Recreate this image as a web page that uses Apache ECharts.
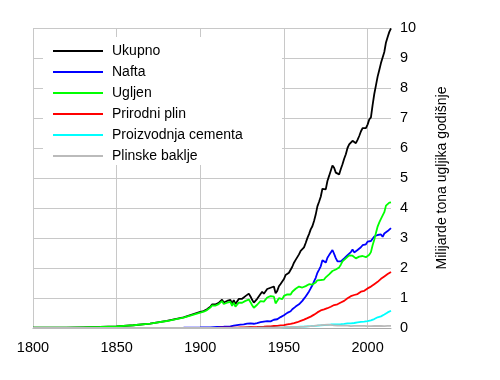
<!DOCTYPE html>
<html>
<head>
<meta charset="utf-8">
<script src="https://cdn.jsdelivr.net/npm/echarts@6/dist/echarts.min.js"></script>
<style>html,body{margin:0;padding:0;background:#fff;}#c{width:500px;height:380px;}</style>
</head>
<body>
<div id="c"></div>
<script>
var years = [1800,1810,1820,1830,1840,1850,1860,1870,1880,1890,
1900,1901,1902,1903,1904,1905,1906,1907,1908,1909,
1910,1911,1912,1913,1914,1915,1916,1917,1918,1919,
1920,1921,1922,1923,1924,1925,1926,1927,1928,1929,
1930,1931,1932,1933,1934,1935,1936,1937,1938,1939,
1940,1941,1942,1943,1944,1945,1946,1947,1948,1949,
1950,1951,1952,1953,1954,1955,1956,1957,1958,1959,
1960,1961,1962,1963,1964,1965,1966,1967,1968,1969,
1970,1971,1972,1973,1974,1975,1976,1977,1978,1979,
1980,1981,1982,1983,1984,1985,1986,1987,1988,1989,
1990,1991,1992,1993,1994,1995,1996,1997,1998,1999,
2000,2001,2002,2003,2004,2005,2006,2007,2008,2009,
2010,2011,2012,2013,2014];

var totalVals = [0.008,0.010,0.014,0.024,0.033,0.054,0.091,0.147,0.236,0.356,
0.534,0.552,0.566,0.617,0.624,0.663,0.707,0.784,0.750,0.785,
0.819,0.836,0.879,0.943,0.850,0.838,0.901,0.955,0.936,0.806,
0.932,0.803,0.845,0.970,0.963,0.975,0.983,1.062,1.065,1.145,
1.053,0.940,0.847,0.893,0.973,1.027,1.130,1.209,1.142,1.192,
1.299,1.334,1.342,1.391,1.383,1.160,1.238,1.392,1.469,1.419,
1.630,1.767,1.795,1.841,1.865,2.042,2.177,2.270,2.330,2.454,
2.569,2.580,2.686,2.833,2.995,3.130,3.288,3.393,3.566,3.780,
4.053,4.208,4.376,4.640,4.660,4.620,4.900,5.070,5.120,5.420,
5.340,5.180,5.140,5.120,5.300,5.460,5.640,5.790,6.000,6.120,
6.150,6.240,6.180,6.160,6.270,6.400,6.550,6.660,6.680,6.660,
6.780,6.950,7.020,7.430,7.800,8.090,8.380,8.600,8.830,8.780,
9.200,9.520,9.700,9.870,9.990];

var oilVals = [0,0,0,0,0,0,0,0.001,0.003,0.009,
0.016,0.018,0.019,0.020,0.023,0.023,0.023,0.028,0.030,0.032,
0.034,0.036,0.037,0.041,0.042,0.045,0.048,0.054,0.054,0.061,
0.078,0.084,0.094,0.111,0.110,0.116,0.119,0.136,0.143,0.160,
0.152,0.147,0.141,0.154,0.162,0.176,0.192,0.219,0.214,0.222,
0.229,0.236,0.222,0.239,0.275,0.275,0.292,0.322,0.364,0.362,
0.423,0.479,0.504,0.533,0.557,0.625,0.679,0.714,0.731,0.789,
0.849,0.904,0.980,1.052,1.137,1.219,1.323,1.423,1.551,1.673,
1.839,1.947,2.057,2.260,2.270,2.180,2.340,2.430,2.440,2.600,
2.470,2.330,2.220,2.200,2.220,2.220,2.320,2.340,2.430,2.480,
2.530,2.620,2.520,2.560,2.600,2.640,2.690,2.760,2.820,2.790,
2.880,2.900,2.900,2.960,3.050,3.080,3.100,3.110,3.120,3.040,
3.150,3.180,3.230,3.290,3.330];

var coalVals = [0.008,0.010,0.014,0.024,0.033,0.054,0.091,0.146,0.233,0.344,
0.515,0.531,0.543,0.593,0.597,0.636,0.680,0.750,0.716,0.748,
0.776,0.794,0.836,0.895,0.800,0.784,0.842,0.891,0.873,0.735,
0.843,0.709,0.740,0.845,0.836,0.842,0.846,0.905,0.890,0.947,
0.862,0.759,0.675,0.708,0.775,0.811,0.893,0.941,0.880,0.918,
1.017,1.043,1.063,1.092,1.047,0.820,0.875,0.992,1.015,0.960,
1.070,1.129,1.119,1.125,1.116,1.208,1.273,1.309,1.336,1.382,
1.410,1.349,1.351,1.396,1.435,1.460,1.478,1.448,1.460,1.520,
1.590,1.575,1.600,1.610,1.615,1.690,1.730,1.790,1.820,1.900,
1.960,1.950,2.000,2.020,2.110,2.220,2.260,2.320,2.380,2.420,
2.460,2.410,2.380,2.320,2.330,2.380,2.410,2.400,2.350,2.360,
2.400,2.440,2.530,2.760,2.940,3.170,3.380,3.520,3.640,3.650,
3.860,4.080,4.140,4.180,4.190];

var gasVals = [0,0,0,0,0,0,0,0,0.001,0.003,
0.003,0.003,0.004,0.004,0.004,0.005,0.005,0.006,0.006,0.007,
0.007,0.008,0.008,0.008,0.008,0.009,0.010,0.011,0.011,0.010,
0.012,0.011,0.013,0.017,0.019,0.020,0.022,0.026,0.028,0.033,
0.034,0.031,0.030,0.030,0.034,0.036,0.040,0.045,0.043,0.046,
0.050,0.053,0.055,0.061,0.067,0.070,0.072,0.080,0.088,0.092,
0.097,0.115,0.124,0.131,0.138,0.150,0.161,0.178,0.192,0.214,
0.235,0.254,0.277,0.300,0.328,0.351,0.380,0.410,0.445,0.485,
0.520,0.555,0.585,0.610,0.620,0.625,0.660,0.680,0.710,0.750,
0.765,0.780,0.790,0.800,0.850,0.880,0.905,0.950,0.990,1.030,
1.060,1.090,1.100,1.120,1.130,1.160,1.210,1.210,1.240,1.270,
1.320,1.340,1.380,1.420,1.460,1.500,1.540,1.600,1.640,1.610,
1.720,1.760,1.800,1.840,1.870];

var cementVals = [0,0,0,0,0,0,0,0,0,0,
0,0,0,0,0,0,0,0,0,0,
0,0,0,0,0,0,0,0,0,0,
0,0,0,0,0,0,0,0,0.010,0.010,
0.010,0.008,0.007,0.008,0.009,0.011,0.012,0.013,0.013,0.014,
0.014,0.015,0.014,0.012,0.010,0.010,0.012,0.013,0.015,0.016,
0.018,0.020,0.022,0.024,0.026,0.029,0.032,0.034,0.036,0.040,
0.043,0.045,0.049,0.051,0.057,0.060,0.063,0.066,0.070,0.074,
0.078,0.084,0.089,0.095,0.096,0.095,0.103,0.108,0.116,0.119,
0.120,0.121,0.121,0.125,0.128,0.131,0.137,0.143,0.152,0.156,
0.157,0.161,0.167,0.176,0.186,0.198,0.203,0.209,0.210,0.217,
0.226,0.237,0.252,0.276,0.298,0.320,0.356,0.382,0.388,0.415,
0.450,0.490,0.520,0.550,0.575];

var flareVals = [0,0,0,0,0,0,0,0,0,0,
0,0,0,0,0,0,0,0,0,0,
0,0,0,0,0,0,0,0,0,0,
0,0,0,0,0,0,0,0,0,0,
0,0,0,0,0,0,0,0,0,0,
0,0,0,0,0,0,0,0,0,0,
0.023,0.024,0.026,0.027,0.027,0.030,0.032,0.035,0.035,0.036,
0.039,0.042,0.044,0.047,0.051,0.055,0.060,0.066,0.073,0.080,
0.087,0.088,0.095,0.110,0.107,0.092,0.108,0.104,0.106,0.098,
0.089,0.079,0.084,0.074,0.077,0.076,0.078,0.077,0.079,0.072,
0.061,0.066,0.069,0.071,0.071,0.072,0.071,0.070,0.069,0.063,
0.061,0.062,0.063,0.065,0.067,0.067,0.066,0.069,0.068,0.066,
0.065,0.068,0.070,0.072,0.073];

var seriesNames = ['Ukupno','Nafta','Ugljen','Prirodni plin','Proizvodnja cementa','Plinske baklje'];
var seriesColors = ['#000000','#0000ff','#00ff00','#ff0000','#00ffff','#bbbbbb'];
var seriesVals = [totalVals, oilVals, coalVals, gasVals, cementVals, flareVals];
var xTicks = [1800,1850,1900,1950,2000];
var axisTitle = 'Milijarde tona ugljika godišnje';

var FONT = '"Liberation Sans", Arial, sans-serif';
var chart = echarts.init(document.getElementById('c'), null, {renderer:'canvas'});

var series = seriesNames.map(function(n, i){
  return {
    name: n, type: 'line', symbol: 'none', animation: false,
    lineStyle: {color: seriesColors[i], width: 1.8},
    itemStyle: {color: seriesColors[i]},
    z: 2,
    data: years.map(function(y, k){ return [y, seriesVals[i][k]]; })
  };
});

chart.setOption({
  animation: false,
  backgroundColor: '#fff',
  grid: {left: 33, right: 109, top: 28, bottom: 52, containLabel: false},
  graphic: [{type:'rect', z: 1, silent: true,
    shape: {x: 43, y: 37, width: 239, height: 128},
    style: {fill: '#ffffff'}}],
  legend: {
    orient: 'vertical', left: 53, top: 44, padding: 0,
    icon: 'rect', itemWidth: 50, itemHeight: 2, itemGap: 7,
    textStyle: {fontFamily: FONT, fontSize: 14, color: '#000', lineHeight: 14, padding: [0,0,0,4]},
    data: seriesNames
  },
  xAxis: {
    type: 'value', min: 1800, max: 2014, interval: 50,
    axisLine: {show: true, onZero: false, lineStyle: {color: '#aaaaaa', width: 1}},
    axisTick: {show: false},
    splitLine: {show: true, showMaxLine: false, lineStyle: {color: '#c8c8c8', width: 1}},
    axisLabel: {fontFamily: FONT, fontSize: 14.5, color: '#000', margin: 12,
      formatter: function(v){ return xTicks.indexOf(v) >= 0 ? String(v) : ''; }}
  },
  yAxis: {
    type: 'value', position: 'right', min: 0, max: 10, interval: 1,
    axisLine: {show: false}, axisTick: {show: false},
    splitLine: {show: true, lineStyle: {color: '#c8c8c8', width: 1}},
    axisLabel: {fontFamily: FONT, fontSize: 14.5, color: '#000', margin: 9},
    name: axisTitle, nameLocation: 'middle', nameGap: 44, nameRotate: 90,
    nameTextStyle: {fontFamily: FONT, fontSize: 14, color: '#000'}
  },
  series: series
});
</script>
</body>
</html>
